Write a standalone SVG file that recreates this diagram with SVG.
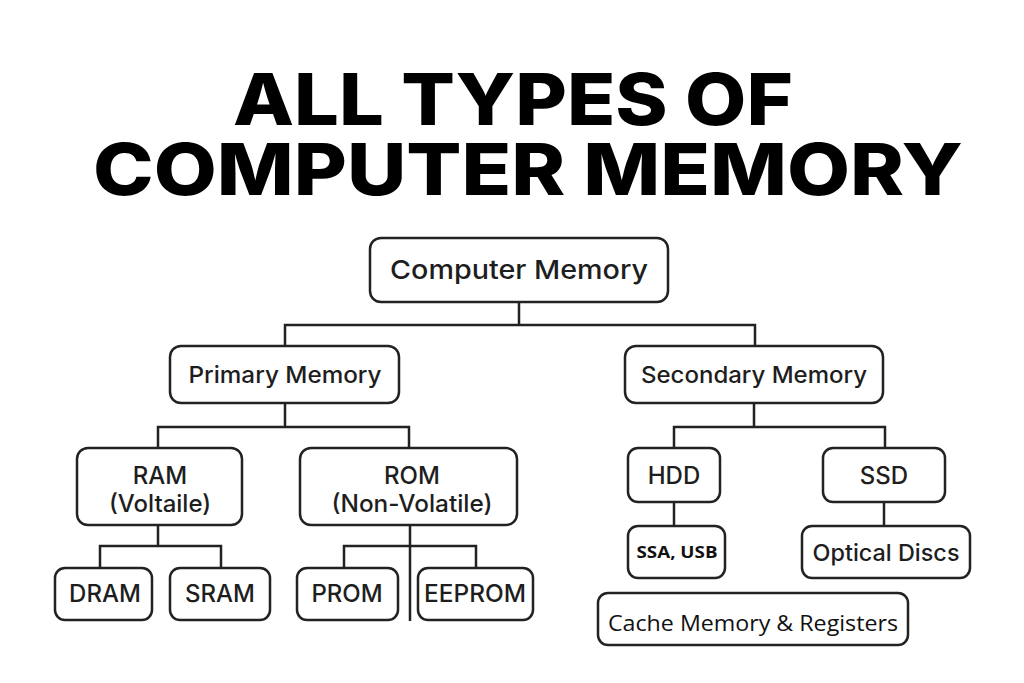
<svg xmlns="http://www.w3.org/2000/svg" width="1024" height="683" viewBox="0 0 1024 683">
<style>
.box{fill:#fff;stroke:#222;stroke-width:2.5}
.lbl{font-family:Inter,"Liberation Sans",sans-serif;font-weight:500;fill:#1e1e1e;text-anchor:middle}
.alt{font-family:"Open Sans","Liberation Sans",sans-serif;fill:#111;text-anchor:middle}
.ttl{font-family:Inter,"Liberation Sans",sans-serif;font-weight:800;fill:#000;font-size:72px}
.con{fill:none;stroke:#222;stroke-width:2.5}
</style>
<rect width="1024" height="683" fill="#fff"/>
<g id="title">
<text class="ttl" x="233" y="125" textLength="560" lengthAdjust="spacingAndGlyphs">ALL TYPES OF</text>
<text class="ttl" x="93" y="195" textLength="870" lengthAdjust="spacingAndGlyphs">COMPUTER MEMORY</text>
</g>
<g id="connectors" class="con">
<path d="M519 302V325M285 347V325H755V347"/>
<path d="M285 403V427M158 448V427H409V448"/>
<path d="M754 403V427M674 448V427H885V448"/>
<path d="M158 525V546M100 568V546H221V568"/>
<path d="M410 525V621M344 568V546H476V568"/>
<path d="M674 502V526"/>
<path d="M884 502V526"/>
</g>
<g id="computer-memory"><rect class="box" x="370" y="238" width="298" height="64" rx="11"/><text class="lbl" x="519" y="279" font-size="26" textLength="258" lengthAdjust="spacingAndGlyphs">Computer Memory</text></g>
<g id="primary-memory"><rect class="box" x="170" y="346" width="229" height="57" rx="11"/><text class="lbl" x="285" y="383" font-size="23" textLength="193" lengthAdjust="spacingAndGlyphs">Primary Memory</text></g>
<g id="secondary-memory"><rect class="box" x="625" y="346" width="258" height="57" rx="11"/><text class="lbl" x="754" y="383" font-size="23" textLength="226" lengthAdjust="spacingAndGlyphs">Secondary Memory</text></g>
<g id="ram"><rect class="box" x="77" y="448" width="165" height="77" rx="11"/><text class="lbl" x="160" y="484" font-size="24">RAM</text><text class="lbl" x="160" y="512" font-size="24">(Voltaile)</text></g>
<g id="rom"><rect class="box" x="300" y="448" width="217" height="77" rx="11"/><text class="lbl" x="412" y="484" font-size="24">ROM</text><text class="lbl" x="412" y="512" font-size="24" textLength="161" lengthAdjust="spacingAndGlyphs">(Non-Volatile)</text></g>
<g id="dram"><rect class="box" x="55" y="568" width="97" height="52" rx="10"/><text class="lbl" x="105" y="602" font-size="24">DRAM</text></g>
<g id="sram"><rect class="box" x="170" y="568" width="100" height="52" rx="10"/><text class="lbl" x="220" y="602" font-size="24">SRAM</text></g>
<g id="prom"><rect class="box" x="297" y="568" width="101" height="52" rx="10"/><text class="lbl" x="347" y="602" font-size="24">PROM</text></g>
<g id="eeprom"><rect class="box" x="418" y="568" width="115" height="52" rx="10"/><text class="lbl" x="475" y="602" font-size="24" textLength="102" lengthAdjust="spacingAndGlyphs">EEPROM</text></g>
<g id="hdd"><rect class="box" x="628" y="448" width="92" height="54" rx="10"/><text class="lbl" x="674" y="484" font-size="24">HDD</text></g>
<g id="ssd"><rect class="box" x="823" y="448" width="122" height="54" rx="10"/><text class="lbl" x="884" y="484" font-size="24">SSD</text></g>
<g id="ssa-usb"><rect class="box" x="628" y="526" width="97" height="52" rx="10"/><text class="alt" x="677" y="558" font-size="16" font-weight="bold" textLength="81" lengthAdjust="spacingAndGlyphs">SSA, USB</text></g>
<g id="optical-discs"><rect class="box" x="802" y="526" width="168" height="52" rx="10"/><text class="lbl" x="886" y="561" font-size="23" textLength="147" lengthAdjust="spacingAndGlyphs">Optical Discs</text></g>
<g id="cache"><rect class="box" x="598" y="593" width="310" height="52" rx="10"/><text class="alt" x="753" y="631" font-size="22" textLength="290" lengthAdjust="spacingAndGlyphs">Cache Memory &amp; Registers</text></g>
</svg>
